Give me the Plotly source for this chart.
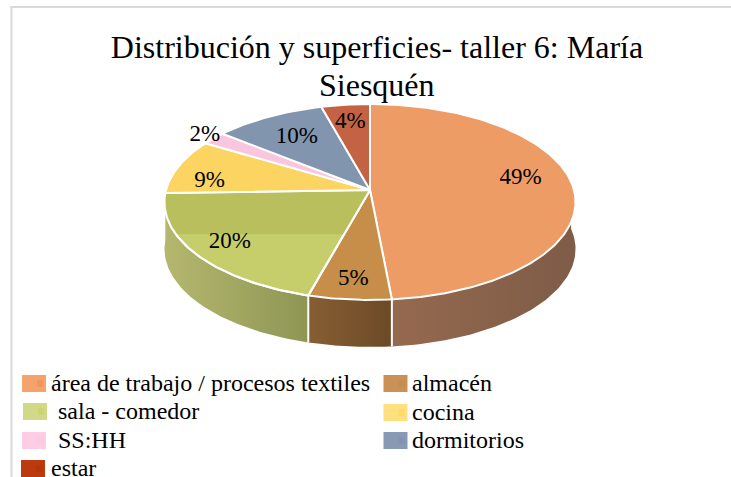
import numpy as np
import plotly.graph_objects as go

# ---- data ----
categories = ["área de trabajo / procesos textiles", "almacén", " sala - comedor", "cocina",
              " SS:HH", "dormitorios", "estar"]
shares = [48.5, 5.8, 20.2, 9.1, 2.2, 9.9, 4.3]
percent_labels = ["49%", "5%", "20%", "9%", "2%", "10%", "4%"]
title_lines = ["Distribución y superficies- taller 6: María", "Siesquén"]

# ---- styling ----
FONT = "Liberation Serif"
top_colors = ["#EE9C66", "#C78E4A", "#C6CE6C", "#FCD461", "#FAC5DE", "#8195AE", "#C46244"]
band_color = "#B9BF5D"
side_colors = {0: ("#95694F", "#7E5C47"), 1: ("#875E34", "#6C4A27"), 2: ("#B5B76E", "#8E9654")}
legend_colors = ["#F4A36E", "#C99155", "#D2D986", "#FFDF7F", "#FFCCE5", "#8899B3", "#BB3A10"]
legend_inner = ["#F09050", "#C68A4C", "#C8D060", "#FFD850", "#FFC6E0", "#7F91AC", "#B83200"]
label_place = [(0.76, -7), (0.83, 0), (0.82, 0), (0.80, -8), (1.06, 0), (0.70, 0), (0.78, 0)]
swatch_pos = [(22, 375), (383.5, 375), (23, 403), (383.5, 404), (22, 432), (383.5, 432), (21, 460)]
text_x = [48.5, 409.5, 49.5, 409.5, 49.5, 409.5, 48.5]
W, H = 731, 477

# ---- perspective projection of the pie disc ----
CX, CY, A, B, K, DEPTH = 370.0, 190.0, 204.0, 96.5, 0.1224, 47.0


def project(theta_deg, r=1.0):
    t = np.radians(theta_deg)
    u, v = r * np.sin(t), -r * np.cos(t)
    w = 1 - K * v
    return CX + A * u / w, CY + B * v / w


def clip_above(xs, ys, limit):
    out_x, out_y = [], []
    n = len(xs)
    for i in range(n):
        x0, y0, x1, y1 = xs[i], ys[i], xs[(i + 1) % n], ys[(i + 1) % n]
        if y0 <= limit:
            out_x.append(x0)
            out_y.append(y0)
        if (y0 <= limit) != (y1 <= limit):
            f = (limit - y0) / (y1 - y0)
            out_x.append(x0 + (x1 - x0) * f)
            out_y.append(limit)
    return out_x, out_y


cum = np.concatenate([[0], np.cumsum(shares)]) / sum(shares) * 360
fig = go.Figure()


def poly(xs, ys, color, line=None, width=0):
    fig.add_trace(go.Scatter(
        x=list(xs), y=list(ys), mode="lines", fill="toself", fillcolor=color,
        line=dict(color=line or color, width=width if line else 1),
        hoverinfo="skip", showlegend=False))


# side walls (front part of the disc only), shaded left to right
for i, (c_left, c_right) in side_colors.items():
    a0, a1 = max(cum[i], 85), min(cum[i + 1], 272)
    x, y = project(np.linspace(a0, a1, 80))
    fig.add_trace(go.Scatter(
        x=np.r_[x, x[::-1]], y=np.r_[y, y[::-1] + DEPTH], mode="lines", fill="toself",
        fillgradient=dict(type="horizontal", colorscale=[[0, c_left], [1, c_right]]),
        line=dict(width=0), hoverinfo="skip", showlegend=False))

# white separators on the side walls
for a in cum[1:3]:
    x, y = project(a)
    fig.add_trace(go.Scatter(x=[x, x], y=[y, y + DEPTH], mode="lines",
                             line=dict(color="white", width=2), hoverinfo="skip", showlegend=False))

# top surface
for i in range(len(shares)):
    th = np.linspace(cum[i], cum[i + 1], max(4, int(shares[i] * 4)))
    x, y = project(th)
    xs, ys = np.r_[CX, x, CX], np.r_[CY, y, CY]
    poly(xs, ys, top_colors[i], "white", 2)
    if i == 2:  # darker band on the upper part of this slice
        bx, by = clip_above(list(xs[:-1]), list(ys[:-1]), 234)
        poly(bx + bx[:1], by + by[:1], band_color, band_color, 0.5)
        fig.add_trace(go.Scatter(x=xs, y=ys, mode="lines", line=dict(color="white", width=2),
                                 hoverinfo="skip", showlegend=False))

# percentage labels
lx, ly = [], []
for i, (r, d) in enumerate(label_place):
    px, py = project((cum[i] + cum[i + 1]) / 2 + d, r)
    lx.append(px)
    ly.append(py)
fig.add_trace(go.Scatter(x=lx, y=ly, mode="text", text=percent_labels, textposition="middle center",
                         textfont=dict(family=FONT, size=23, color="black"),
                         hoverinfo="skip", showlegend=False))

shapes = [
    dict(type="line", x0=11.5, x1=11.5, y0=6, y1=H, line=dict(color="#D9D9D9", width=2)),
    dict(type="line", x0=10.5, x1=W, y0=7, y1=7, line=dict(color="#D9D9D9", width=2)),
]
annotations = [dict(x=377, y=84.5, text=title_lines[1], showarrow=False, xanchor="center", yanchor="middle",
                    font=dict(family=FONT, size=32, color="black"))]
for i, name in enumerate(categories):
    sx, sy = swatch_pos[i]
    shapes.append(dict(type="rect", x0=sx, x1=sx + 24, y0=sy, y1=sy + 17, fillcolor=legend_colors[i], line_width=0))
    shapes.append(dict(type="rect", x0=sx + 15, x1=sx + 21, y0=sy + 5, y1=sy + 12,
                       fillcolor=legend_inner[i], line_width=0, opacity=0.6))
    annotations.append(dict(x=text_x[i], y=sy + 7.5,
                            text=name.replace(" ", "&nbsp;", 1) if name.startswith(" ") else name,
                            showarrow=False, xanchor="left", yanchor="middle",
                            font=dict(family=FONT, size=24, color="black")))

fig.update_layout(
    width=W, height=H, margin=dict(l=0, r=0, t=0, b=0),
    paper_bgcolor="white", plot_bgcolor="white", showlegend=False,
    title=dict(text=title_lines[0], x=377 / W, xanchor="center", y=1 - 47 / H, yanchor="middle",
               font=dict(family=FONT, size=32, color="black")),
    xaxis=dict(range=[0, W], visible=False, fixedrange=True),
    yaxis=dict(range=[H, 0], visible=False, fixedrange=True),
    shapes=shapes, annotations=annotations,
)
fig.write_html("out.html", config={"displayModeBar": False},
               post_script="document.body.style.margin='0';document.documentElement.style.overflow='hidden';")
